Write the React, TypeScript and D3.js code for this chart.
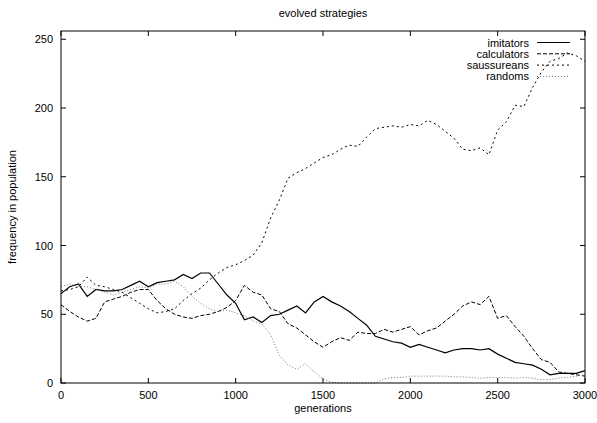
import React from 'react';
import * as d3 from 'd3';

// sampled every 50 generations
const generations = d3.range(0, 3001, 50);

const imitators = [65, 70, 72, 63, 68, 67, 67, 68, 71, 74, 70, 73, 74, 75, 79, 76, 80, 80, 72, 64,
  58, 46, 48, 44, 49, 50, 53, 56, 51, 59, 63, 59, 56, 52, 47, 42, 34, 32, 30, 29,
  26, 28, 26, 24, 22, 24, 25, 25, 24, 25, 21, 18, 15, 14, 13, 10, 6, 7, 7, 7, 9];

const calculators = [57, 52, 48, 45, 47, 59, 61, 63, 66, 68, 68, 60, 54, 50, 48, 47, 49, 50, 52, 55,
  60, 71, 66, 64, 54, 52, 43, 40, 35, 30, 26, 30, 33, 31, 37, 36, 36, 39, 37, 39,
  41, 35, 38, 40, 45, 50, 56, 59, 57, 63, 47, 49, 41, 34, 25, 17, 15, 8, 7, 6, 5];

const saussureans = [67, 68, 70, 77, 71, 70, 68, 66, 62, 58, 54, 51, 52, 54, 60, 65, 69, 75, 80, 84,
  86, 89, 93, 102, 120, 133, 149, 153, 156, 160, 164, 166, 170, 173, 172, 179, 185, 186, 187, 186,
  188, 187, 191, 188, 183, 178, 170, 169, 171, 166, 184, 190, 202, 201, 215, 226, 234, 236, 240, 238, 234];

const randoms = [70, 72, 70, 70, 68, 66, 64, 66, 68, 70, 69, 72, 72, 74, 70, 63, 58, 54, 52, 53,
  51, 49, 45, 43, 35, 20, 13, 10, 14, 8, 3, 0.5, 0, 0, 0, 0, 0, 3, 4, 4,
  5, 5, 5, 5, 5, 4.5, 4.5, 4, 3.5, 4, 4, 4, 3.5, 4, 3.5, 2.5, 2.5, 3.5, 4, 5, 6];

const xTicks = [0, 500, 1000, 1500, 2000, 2500, 3000];
const yTicks = [0, 50, 100, 150, 200, 250];

const series = [
  { name: 'imitators', values: imitators, dash: '', color: '#000', width: 1.2 },
  { name: 'calculators', values: calculators, dash: '4,2', color: '#000', width: 1 },
  { name: 'saussureans', values: saussureans, dash: '2,3', color: '#000', width: 1 },
  { name: 'randoms', values: randoms, dash: '1,2', color: '#777', width: 1 },
];

const W = 597, H = 423;
const margin = { top: 31, right: 12, bottom: 40, left: 61 };
const font = '"Liberation Sans", Arial, sans-serif';

export default function App() {
  const x = d3.scaleLinear().domain([0, 3000]).range([margin.left, W - margin.right]);
  const y = d3.scaleLinear().domain([0, 256]).range([H - margin.bottom, margin.top]);
  const line = d3.line<number>().x((d, i) => x(generations[i])).y(d => y(d));

  const x0 = x(0), x1 = x(3000), y0 = y(0), y1 = margin.top;

  return (
    <div style={{ position: 'absolute', left: 0, top: 0, width: W, height: H, overflow: 'hidden', background: '#fff' }}>
      <svg width={W} height={H} style={{ display: 'block', fontFamily: font }}>
        <rect width={W} height={H} fill="#fff" />
        {/* ticks, mirrored on all sides */}
        {xTicks.map(t => (
          <g key={'x' + t}>
            <line x1={x(t)} x2={x(t)} y1={y0} y2={y0 - 5} stroke="#000" />
            <line x1={x(t)} x2={x(t)} y1={y1} y2={y1 + 5} stroke="#000" />
            <text x={x(t)} y={y0 + 16} textAnchor="middle" fontSize={11}>{t}</text>
          </g>
        ))}
        {yTicks.map(t => (
          <g key={'y' + t}>
            <line x1={x0} x2={x0 + 5} y1={y(t)} y2={y(t)} stroke="#000" />
            <line x1={x1} x2={x1 - 5} y1={y(t)} y2={y(t)} stroke="#000" />
            <text x={x0 - 8} y={y(t) + 4} textAnchor="end" fontSize={11}>{t}</text>
          </g>
        ))}
        <g fill="none">
          {series.map(s => (
            <path key={s.name} d={line(s.values) || ''} stroke={s.color} strokeWidth={s.width}
              strokeDasharray={s.dash || undefined} />
          ))}
        </g>
        <rect x={x0} y={y1} width={x1 - x0} height={y0 - y1} fill="none" stroke="#000" strokeWidth={1} />
        {/* legend */}
        {series.map((s, i) => (
          <g key={'l' + s.name}>
            <text x={529} y={46.5 + i * 11.3} textAnchor="end" fontSize={11}>{s.name}</text>
            <line x1={537} x2={570} y1={42.5 + i * 11.3} y2={42.5 + i * 11.3} stroke={s.color}
              strokeWidth={s.width} strokeDasharray={s.dash || undefined} />
          </g>
        ))}
        <text x={(x0 + x1) / 2} y={17} textAnchor="middle" fontSize={11}>evolved strategies</text>
        <text x={(x0 + x1) / 2} y={412} textAnchor="middle" fontSize={11}>generations</text>
        <text transform={`translate(16,${(y0 + y1) / 2}) rotate(-90)`} textAnchor="middle" fontSize={11}>frequency in population</text>
      </svg>
    </div>
  );
}
